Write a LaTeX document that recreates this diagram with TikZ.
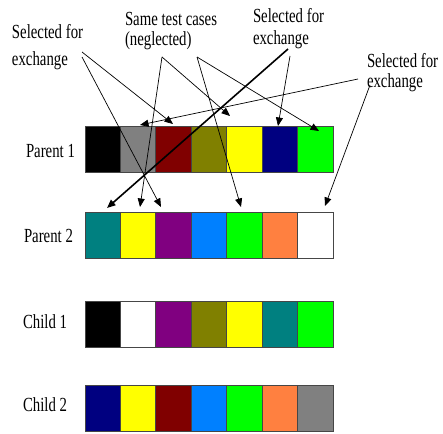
\documentclass[tikz,border=0pt]{standalone}
\usepackage{fontspec}
\setmainfont{Liberation Serif}
\usepackage{graphicx}
\usetikzlibrary{arrows.meta}
\definecolor{cgray}{RGB}{128,128,128}
\definecolor{cmaroon}{RGB}{128,0,0}
\definecolor{colive}{RGB}{128,128,0}
\definecolor{cyellow}{RGB}{255,255,0}
\definecolor{cnavy}{RGB}{0,0,128}
\definecolor{clime}{RGB}{0,255,0}
\definecolor{cteal}{RGB}{0,128,128}
\definecolor{cpurple}{RGB}{128,0,128}
\definecolor{cazure}{RGB}{0,128,255}
\definecolor{corange}{RGB}{255,128,64}
\definecolor{cborder}{RGB}{70,70,70}
\newcommand{\mylbl}[2]{\scalebox{0.74}[1]{\fontsize{20}{#1}\selectfont\begin{tabular}[t]{@{}l@{}}#2\end{tabular}}}
\newcommand{\myrow}[1]{\scalebox{0.74}[1]{\fontsize{20}{22}\selectfont #1}}
\begin{document}
\begin{tikzpicture}[x=1pt,y=-1pt,
  cell/.style={draw=cborder,line width=0.8pt,minimum width=35.43pt,minimum height=46pt,inner sep=0pt,outer sep=0pt},
  txt/.style={inner sep=0pt,outer sep=0pt,anchor=base west},
  arr/.style={draw=black,line width=0.7pt,-{Triangle[length=8.5pt,width=7pt]}},
  thickarr/.style={arr,line width=1.6pt}]
\fill[white] (0,0) rectangle (443,433);
\useasboundingbox (0,0) rectangle (443,433);
% bars
\foreach \c [count=\i] in {black,cgray,cmaroon,colive,cyellow,cnavy,clime}
  \node[cell,fill=\c] (pa\i) at ({85+35.43*(\i-0.5)},149) {};
\foreach \c [count=\i] in {cteal,cyellow,cpurple,cazure,clime,corange,white}
  \node[cell,fill=\c] (pb\i) at ({85+35.43*(\i-0.5)},235.5) {};
\foreach \c [count=\i] in {black,white,cpurple,colive,cyellow,cteal,clime}
  \node[cell,fill=\c] (ca\i) at ({85+35.43*(\i-0.5)},324.5) {};
\foreach \c [count=\i] in {cnavy,cyellow,cmaroon,cazure,clime,corange,cgray}
  \node[cell,fill=\c] (cb\i) at ({85+35.43*(\i-0.5)},408.5) {};
% row labels
\node[txt] (lp1) at (26,157) {\myrow{Parent 1}};
\node[txt] (lp2) at (24,242) {\myrow{Parent 2}};
\node[txt] (lc1) at (23,328) {\myrow{Child 1}};
\node[txt] (lc2) at (23,411) {\myrow{Child 2}};
% top labels
\node[txt] (t1) at (12,39) {\mylbl{27}{Selected for\\exchange}};
\node[txt] (t2) at (125,26) {\mylbl{20}{Same test cases\\(neglected)}};
\node[txt] (t3) at (253,23) {\mylbl{22}{Selected for\\exchange}};
\node[txt] (t4) at (367,67) {\mylbl{20}{Selected for\\exchange}};
% arrow coordinates
\coordinate (s1a) at (82,52);
\coordinate (s1b) at (82,57);
\coordinate (s2a) at (162,57);
\coordinate (s2b) at (197,57);
\coordinate (s3a) at (288,49);
\coordinate (s3b) at (290,56);
\coordinate (s4a) at (358,79);
\coordinate (s4b) at (370,85);
\coordinate (e1) at (173,124);
\coordinate (e2) at (161,207);
\coordinate (e3) at (140,207);
\coordinate (e4) at (230,116);
\coordinate (e5) at (241,207);
\coordinate (e6) at (319,131);
\coordinate (e7) at (107,208);
\coordinate (e8) at (278,126);
\coordinate (e9) at (140,125);
\coordinate (e10) at (325,206);
% arrows
\draw[arr] (s1a) -- (e1);
\draw[arr] (s1b) -- (e2);
\draw[arr] (s2a) -- (e3);
\draw[arr] (s2a) -- (e4);
\draw[arr] (s2b) -- (e5);
\draw[arr] (s2b) -- (e6);
\draw[thickarr] (s3a) -- (e7);
\draw[arr] (s3b) -- (e8);
\draw[arr] (s4a) -- (e9);
\draw[arr] (s4b) -- (e10);
\end{tikzpicture}
\end{document}
